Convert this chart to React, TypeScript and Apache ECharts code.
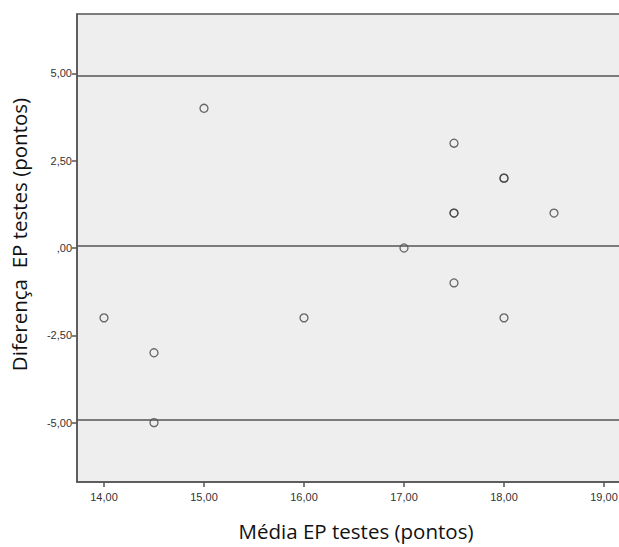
import React, { useEffect, useRef } from "react";
import * as echarts from "echarts";

const mediaEP: number[] = [14.0, 14.5, 14.5, 15.0, 16.0, 17.0, 17.5, 17.5, 17.5, 17.5, 18.0, 18.0, 18.0, 18.5];
const diferencaEP: number[] = [-2, -3, -5, 4, -2, 0, 3, 1, 1, -1, 2, 2, -2, 1];
const referenceLines: number[] = [4.92, 0.07, -4.92];
const xTicks: number[] = [14, 15, 16, 17, 18, 19];
const yTicks: number[] = [-5, -2.5, 0, 2.5, 5];
const xTitle = "Média EP testes (pontos)";
const yTitle = "Diferença  EP testes (pontos)";

const fmt = (v: number): string => {
  if (v === 0) return ",00";
  return v.toFixed(2).replace(".", ",");
};

export default function App() {
  const ref = useRef<HTMLDivElement>(null);
  useEffect(() => {
    if (!ref.current) return;
    const chart = echarts.init(ref.current, undefined, { renderer: "svg" });
    const axisColor = "#555555";
    const titleFont = { fontFamily: "Open Sans", fontSize: 20.5, fill: "#111111" };
    chart.setOption({
      animation: false,
      backgroundColor: "#ffffff",
      grid: {
        left: 77,
        top: 14,
        bottom: 65,
        right: 11,
        show: true,
        backgroundColor: "#eeeeee",
        borderColor: axisColor,
        borderWidth: 1.5,
      },
      graphic: [
        {
          type: "text",
          x: 356,
          y: 531,
          style: { text: xTitle, ...titleFont, textAlign: "center", textVerticalAlign: "middle" },
        },
        {
          type: "text",
          x: 19,
          y: 234.5,
          rotation: Math.PI / 2,
          style: { text: yTitle, ...titleFont, textAlign: "center", textVerticalAlign: "middle" },
        },
      ],
      xAxis: {
        type: "value",
        min: 13.73,
        max: 19.25,
        axisLine: { show: true, onZero: false, lineStyle: { color: axisColor, width: 1.5 } },
        axisTick: { show: true, length: 5, lineStyle: { color: axisColor, width: 1.5 }, customValues: xTicks },
        axisLabel: {
          customValues: xTicks,
          formatter: (v: number) => fmt(v),
          fontFamily: "Liberation Sans",
          fontSize: 11,
          color: "#333",
          margin: 9,
        },
        splitLine: { show: false },
      },
      yAxis: {
        type: "value",
        min: -6.7,
        max: 6.7,
        axisLine: { show: true, onZero: false, lineStyle: { color: axisColor, width: 1.5 } },
        axisTick: { show: true, length: 5, lineStyle: { color: axisColor, width: 1.5 }, customValues: yTicks },
        axisLabel: {
          customValues: yTicks,
          formatter: (v: number) => fmt(v),
          fontFamily: "Liberation Sans",
          fontSize: 11,
          color: "#333",
          margin: 5,
        },
        splitLine: { show: false },
      },
      series: [
        {
          type: "scatter",
          data: mediaEP.map((x, i) => [x, diferencaEP[i]]),
          symbol: "circle",
          symbolSize: 8,
          itemStyle: { color: "rgba(0,0,0,0)", borderColor: "#444444", borderWidth: 1.3 },
          markLine: {
            silent: true,
            symbol: ["none", "none"],
            label: { show: false },
            lineStyle: { color: "#555555", width: 1.5, type: "solid" },
            data: referenceLines.map((y) => ({ yAxis: y })),
          },
        },
      ],
    });
    return () => chart.dispose();
  }, []);
  return (
    <div style={{ position: "fixed", left: 0, top: 0, width: 619, height: 547, overflow: "hidden" }}>
      <div ref={ref} style={{ width: 640, height: 547 }} />
    </div>
  );
}
